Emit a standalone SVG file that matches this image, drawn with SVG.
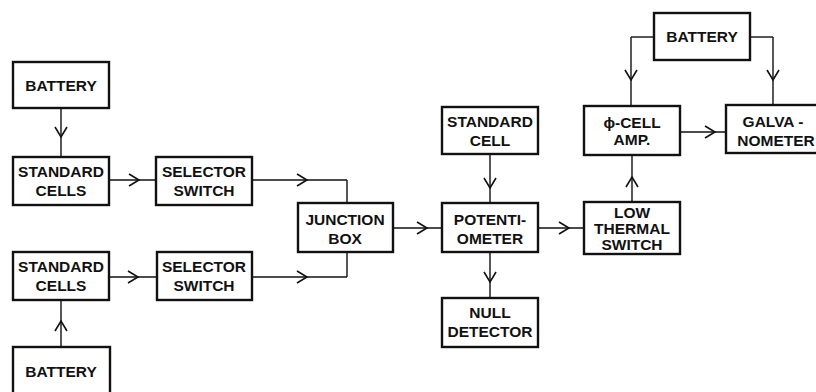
<svg xmlns="http://www.w3.org/2000/svg" width="816" height="392" viewBox="0 0 816 392">
<style>
rect.box{fill:#fff;stroke:#111;stroke-width:2.4}
text{font-family:"Liberation Sans","DejaVu Sans",sans-serif;font-weight:bold;font-size:15.5px;fill:#111;text-anchor:middle}
.c path{fill:none;stroke:#111;stroke-width:1.4}
.c path.a{marker-mid:url(#chev)}
</style>
<defs>
<marker id="chev" markerUnits="userSpaceOnUse" markerWidth="14" markerHeight="16" viewBox="-12 -8 14 16" refX="0" refY="0" orient="auto" overflow="visible">
<polyline points="-10,-6 0,0 -10,6" fill="none" stroke="#111" stroke-width="1.6"/>
</marker>
</defs>
<rect width="816" height="392" fill="#fff"/>
<g class="c" id="connectors">
<path class="a" d="M61 108 L61 137 L61 157"/>
<path class="a" d="M109 180 L139 180 L156 180"/>
<path class="a" d="M252 180 L307 180 L347 180"/>
<path d="M347 180 L347 203"/>
<path class="a" d="M61 347 L61 321 L61 300"/>
<path class="a" d="M109 277 L138 277 L157 277"/>
<path class="a" d="M252 277 L307 277 L347 277"/>
<path d="M347 277 L347 252"/>
<path class="a" d="M393 228 L427 228 L442 228"/>
<path class="a" d="M490 154 L490 188 L490 203"/>
<path class="a" d="M490 252 L490 282 L490 298"/>
<path class="a" d="M538 228 L569 228 L584 228"/>
<path class="a" d="M632 202 L632 177 L632 155"/>
<path d="M654 37 L631 37"/>
<path class="a" d="M631 37 L631 80 L631 106"/>
<path d="M750 37 L773 37"/>
<path class="a" d="M773 37 L773 80 L773 105"/>
<path class="a" d="M680 132 L715 132 L726 132"/>
</g>
<g id="battery1"><rect class="box" x="13" y="62" width="96" height="46"/><text x="61" y="91">BATTERY</text></g>
<g id="cells1"><rect class="box" x="13" y="157" width="96" height="48"/><text x="61" y="177">STANDARD</text><text x="61" y="196">CELLS</text></g>
<g id="selector1"><rect class="box" x="156" y="157" width="96" height="48"/><text x="204" y="177">SELECTOR</text><text x="204" y="196">SWITCH</text></g>
<g id="cells2"><rect class="box" x="13" y="252" width="96" height="48"/><text x="61" y="272">STANDARD</text><text x="61" y="291">CELLS</text></g>
<g id="selector2"><rect class="box" x="157" y="252" width="95" height="48"/><text x="204" y="272">SELECTOR</text><text x="204" y="291">SWITCH</text></g>
<g id="battery2"><rect class="box" x="13" y="347" width="97" height="50"/><text x="61" y="377">BATTERY</text></g>
<g id="junction"><rect class="box" x="298" y="203" width="95" height="49"/><text x="345" y="225">JUNCTION</text><text x="345" y="244">BOX</text></g>
<g id="stdcell"><rect class="box" x="442" y="107" width="96" height="47"/><text x="490" y="127">STANDARD</text><text x="490" y="146">CELL</text></g>
<g id="potentiometer"><rect class="box" x="442" y="203" width="96" height="49"/><text x="490" y="225">POTENTI-</text><text x="490" y="244">OMETER</text></g>
<g id="null"><rect class="box" x="442" y="298" width="96" height="49"/><text x="490" y="318">NULL</text><text x="490" y="337">DETECTOR</text></g>
<g id="lowthermal"><rect class="box" x="584" y="202" width="96" height="52"/><text x="632" y="218">LOW</text><text x="632" y="234">THERMAL</text><text x="632" y="250">SWITCH</text></g>
<g id="cellamp"><rect class="box" x="584" y="106" width="96" height="49"/><text x="632" y="128">ϕ-CELL</text><text x="632" y="145">AMP.</text></g>
<g id="battery3"><rect class="box" x="654" y="13" width="96" height="47"/><text x="702" y="42">BATTERY</text></g>
<g id="galvanometer"><rect class="box" x="726" y="105" width="100" height="48"/><text x="773" y="127">GALVA -</text><text x="776" y="146">NOMETER</text></g>
</svg>
